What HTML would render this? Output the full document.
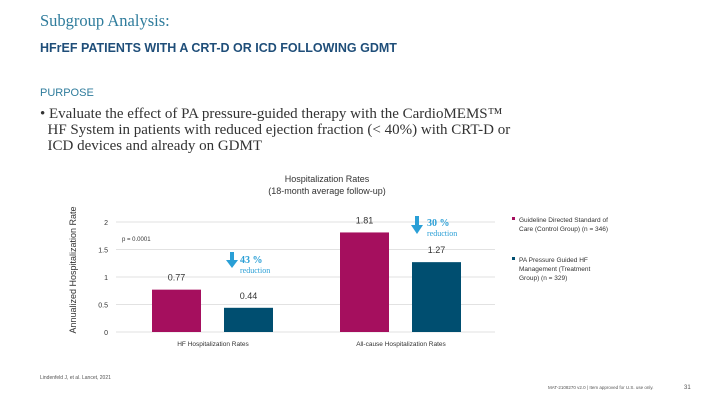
<!DOCTYPE html>
<html><head><meta charset="utf-8"><style>
body{margin:0;width:720px;height:405px;background:#fff;overflow:hidden;position:relative;font-family:"Liberation Sans",sans-serif}
.a{position:absolute;white-space:nowrap}
</style></head><body>
<div class="a" style="left:40px;top:11px;font-family:'Liberation Serif',serif;font-size:16.5px;color:#2f7c9c">Subgroup Analysis:</div>
<div class="a" style="left:40px;top:41px;font-size:12.5px;font-weight:bold;color:#1f4e79">HFrEF PATIENTS WITH A CRT-D OR ICD FOLLOWING GDMT</div>
<div class="a" style="left:40px;top:87px;font-size:11px;color:#2f7c9c">PURPOSE</div>
<div class="a" style="left:40px;top:106px;font-family:'Liberation Serif',serif;font-size:15px;line-height:16px;color:#333">• Evaluate the effect of PA pressure-guided therapy with the CardioMEMS™<br>&nbsp;&nbsp;HF System in patients with reduced ejection fraction (&lt; 40%) with CRT-D or<br>&nbsp;&nbsp;ICD devices and already on GDMT</div>
<svg class="a" style="left:0;top:0" width="720" height="405">
<text x="327" y="182" font-size="9" text-anchor="middle" fill="#333">Hospitalization Rates</text>
<text x="327" y="194" font-size="9" text-anchor="middle" fill="#333">(18-month average follow-up)</text>
<text transform="translate(76,270) rotate(-90)" font-size="9" text-anchor="middle" fill="#333">Annualized Hospitalization Rate</text>
<g id="grid"></g><g id="bars"></g>
<text x="122" y="241" font-size="6" fill="#333">p = 0.0001</text>
<g>
<rect x="230" y="252" width="4" height="9" fill="#2a9fd6"/><polygon points="226,260 238,260 232,268" fill="#2a9fd6"/>
<text x="240" y="263" font-size="10" font-weight="bold" font-family="Liberation Serif" fill="#2a9fd6">43 %</text>
<text x="240" y="273" font-size="8" font-family="Liberation Serif" fill="#2a9fd6">reduction</text></g>
<g>
<rect x="415" y="216" width="4" height="10" fill="#2a9fd6"/><polygon points="411,225 423,225 417,234" fill="#2a9fd6"/>
<text x="427" y="226" font-size="10" font-weight="bold" font-family="Liberation Serif" fill="#2a9fd6">30 %</text>
<text x="427" y="236" font-size="8" font-family="Liberation Serif" fill="#2a9fd6">reduction</text></g>
<rect x="512" y="217" width="3" height="3" fill="#a50f5e"/>
<text x="519" y="222" font-size="6.5" fill="#333">Guideline Directed Standard of<tspan x="519" dy="9">Care (Control Group) (n = 346)</tspan></text>
<rect x="512" y="257" width="3" height="3" fill="#004e70"/>
<text x="519" y="262" font-size="6.5" fill="#333">PA Pressure Guided HF<tspan x="519" dy="9">Management (Treatment</tspan><tspan x="519" dy="9">Group) (n = 329)</tspan></text>
<text x="40" y="379" font-size="5" fill="#555">Lindenfeld J, et al. Lancet, 2021</text>
<text x="548" y="389" font-size="4.5" fill="#555">MAT-2108270 v2.0 | Item approved for U.S. use only.</text>
<text x="684" y="389" font-size="6" fill="#555">31</text>
</svg>
<script>
const categories=["HF Hospitalization Rates","All-cause Hospitalization Rates"];
const controlValues=[0.77,1.81];
const treatmentValues=[0.44,1.27];
const ticks=[0,0.5,1,1.5,2];
const ns="http://www.w3.org/2000/svg";
const y=v=>332-v*55;
const cx=i=>213+i*188;
function mk(t,a,p,txt){const e=document.createElementNS(ns,t);for(const k in a)e.setAttribute(k,a[k]);if(txt!=null)e.textContent=txt;p.appendChild(e);return e;}
const g=document.getElementById('grid'),b=document.getElementById('bars');
ticks.forEach(t=>{
 const l=mk('line',{x1:116,x2:495,y1:y(t),y2:y(t),stroke:'#d9d9d9','stroke-width':0.8},g);
 
 
 const tx=mk('text',{x:108,y:y(t)+3,'font-size':7,'text-anchor':'end',fill:'#333'},g,String(t));
 
 
});
categories.forEach((c,i)=>{
 [[controlValues[i],'#a50f5e',-61],[treatmentValues[i],'#004e70',11]].forEach(([v,col,off],j)=>{
  const r=mk('rect',{x:cx(i)+off,y:y(v),width:49,height:332-y(v),fill:col},b);
  
  
  const t=mk('text',{x:cx(i)+off+24.5,y:y(v)-9,'font-size':9,'text-anchor':'middle',fill:'#333'},b,String(v));
  
  
 });
 const xl=mk('text',{x:cx(i),y:346,'font-size':6.5,'text-anchor':'middle',fill:'#333'},b,c);
 
 
});
</script>
</body></html>
